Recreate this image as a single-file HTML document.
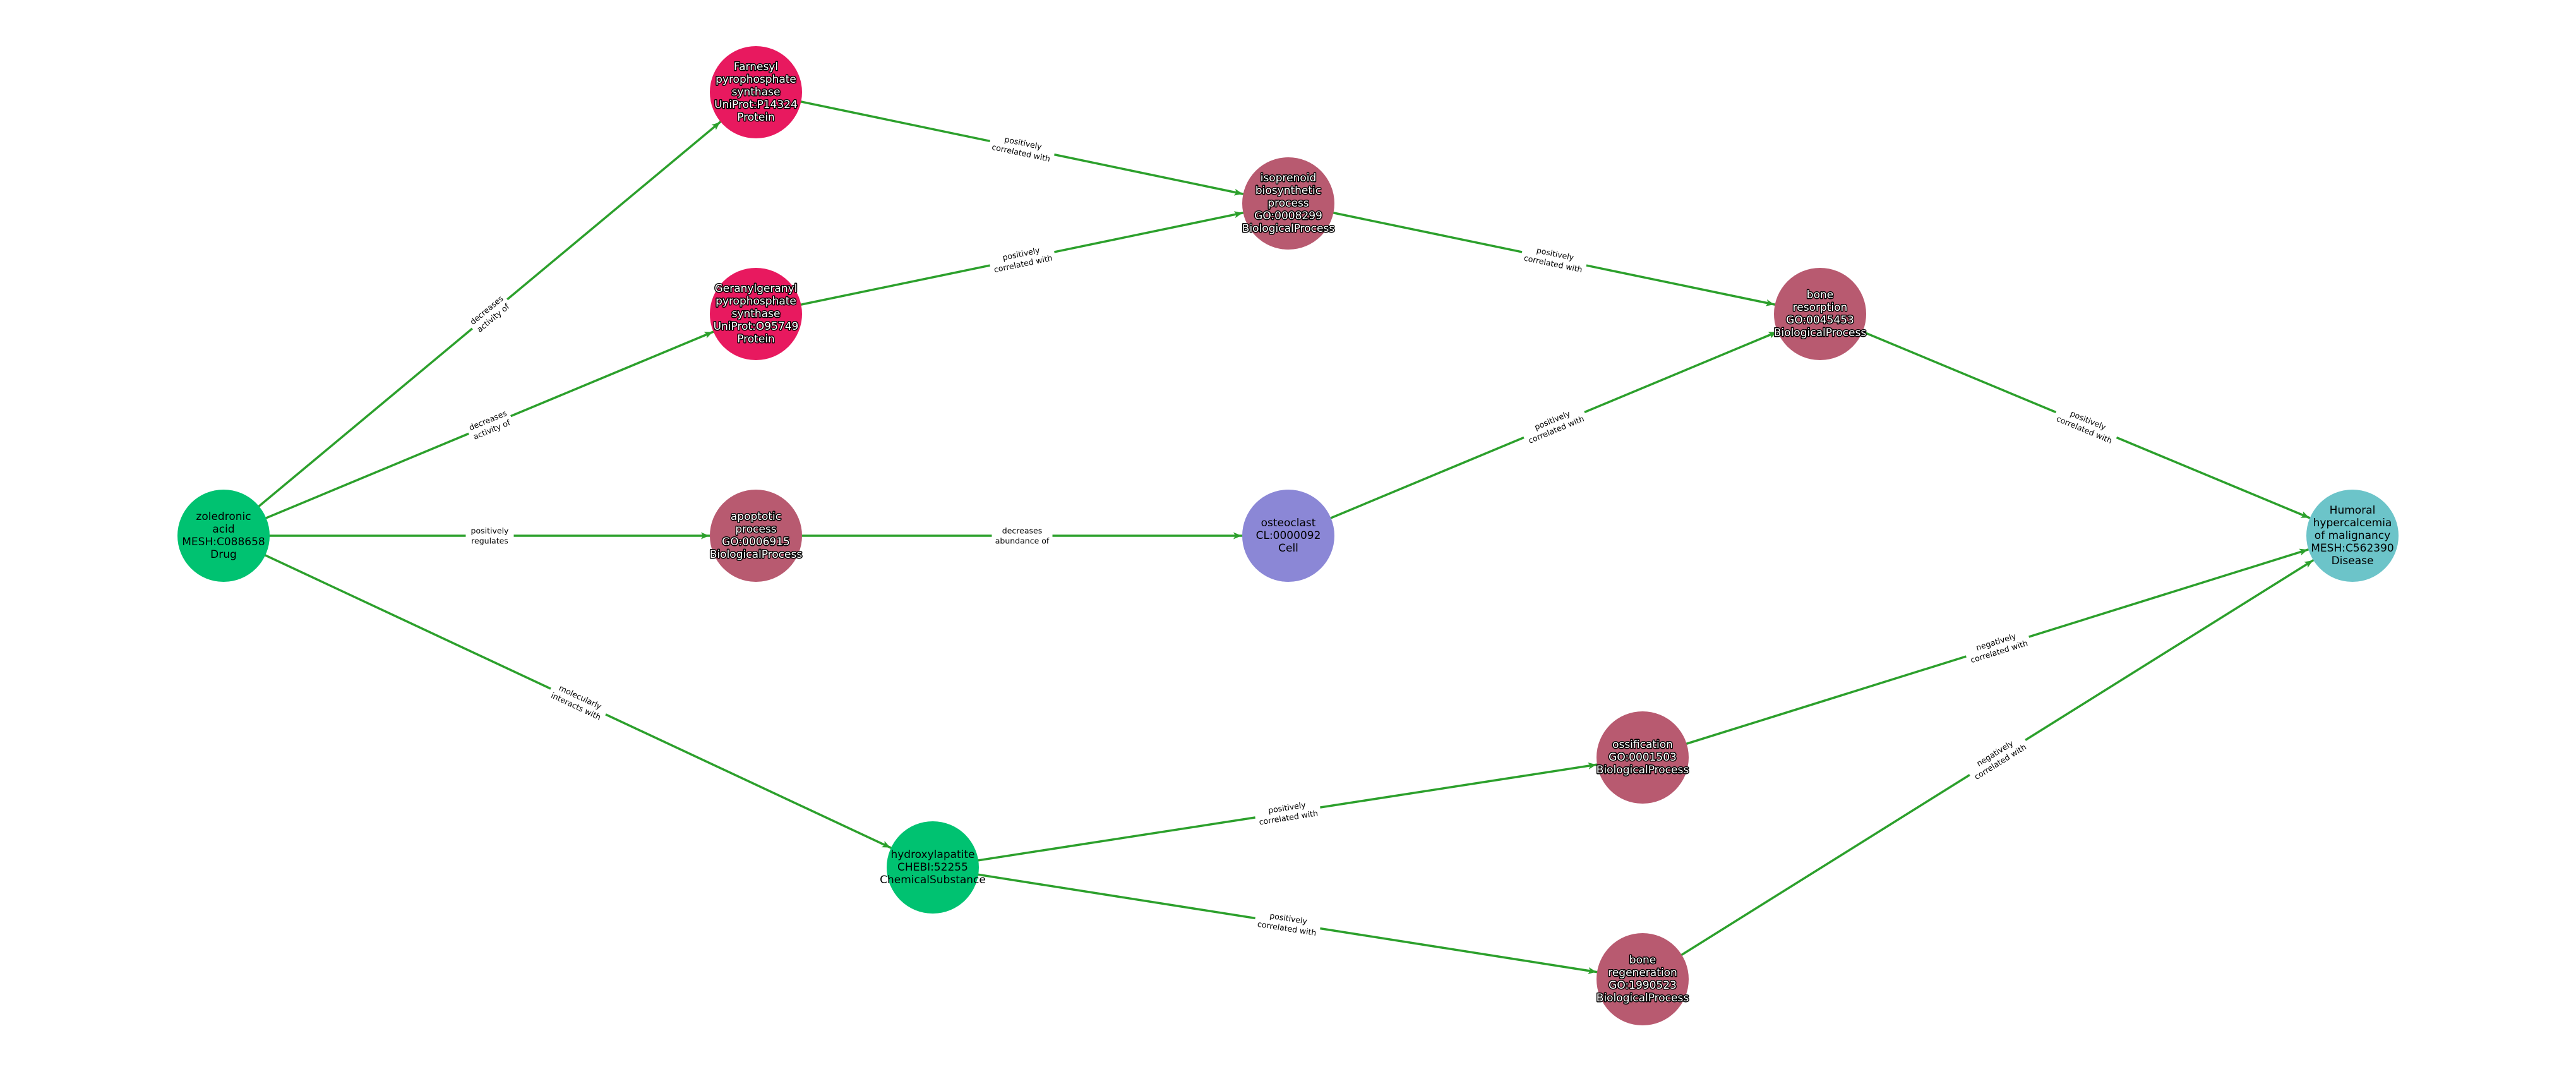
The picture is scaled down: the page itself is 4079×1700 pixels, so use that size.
<!DOCTYPE html>
<html><head><meta charset="utf-8"><style>
html,body{margin:0;padding:0;background:#fff}
svg{display:block}
.n text{font-family:"DejaVu Sans","Liberation Sans",sans-serif;font-size:17px;text-anchor:middle;dominant-baseline:central}
.w text{fill:#fff;stroke:#000;stroke-width:3px;paint-order:stroke;stroke-linejoin:round}
.b text{fill:#000}
.l text{font-family:"DejaVu Sans","Liberation Sans",sans-serif;font-size:12.5px;text-anchor:middle;dominant-baseline:central;fill:#000}
.e line{stroke:#2ca02c;stroke-width:3.5}
</style></head><body>
<svg width="4079" height="1700" viewBox="0 0 4079 1700" xmlns="http://www.w3.org/2000/svg">
<defs>
<marker id="a" markerUnits="userSpaceOnUse" markerWidth="120" markerHeight="30" viewBox="-20 -10 120 20" refX="74" refY="0" orient="auto">
<path d="M0,0 L-13,-5.5 L-10,0 L-13,5.5 Z" fill="#2ca02c"/>
</marker>
</defs>
<g class="e">
<line x1="354" y1="848" x2="1197" y2="146" marker-end="url(#a)"/>
<line x1="354" y1="848" x2="1197" y2="497" marker-end="url(#a)"/>
<line x1="354" y1="848" x2="1197" y2="848" marker-end="url(#a)"/>
<line x1="354" y1="848" x2="1477" y2="1373" marker-end="url(#a)"/>
<line x1="1197" y1="146" x2="2040" y2="322" marker-end="url(#a)"/>
<line x1="1197" y1="497" x2="2040" y2="322" marker-end="url(#a)"/>
<line x1="1197" y1="848" x2="2040" y2="848" marker-end="url(#a)"/>
<line x1="2040" y1="322" x2="2882" y2="497" marker-end="url(#a)"/>
<line x1="2040" y1="848" x2="2882" y2="497" marker-end="url(#a)"/>
<line x1="2882" y1="497" x2="3725" y2="848" marker-end="url(#a)"/>
<line x1="1477" y1="1373" x2="2601" y2="1199" marker-end="url(#a)"/>
<line x1="1477" y1="1373" x2="2601" y2="1550" marker-end="url(#a)"/>
<line x1="2601" y1="1199" x2="3725" y2="848" marker-end="url(#a)"/>
<line x1="2601" y1="1550" x2="3725" y2="848" marker-end="url(#a)"/>
</g>
<g class="l">
<g transform="translate(775.5,497) rotate(-39.8)"><rect x="-36" y="-17" width="72" height="34" fill="#fff"/><text y="-8">decreases</text><text y="8">activity of</text></g>
<g transform="translate(775.5,672.5) rotate(-22.6)"><rect x="-36" y="-17" width="72" height="34" fill="#fff"/><text y="-8">decreases</text><text y="8">activity of</text></g>
<g transform="translate(775.5,848)"><rect x="-38" y="-17" width="76" height="34" fill="#fff"/><text y="-8">positively</text><text y="8">regulates</text></g>
<g transform="translate(915.5,1110.5) rotate(25.1)"><rect x="-48" y="-17" width="96" height="34" fill="#fff"/><text y="-8">molecularly</text><text y="8">interacts with</text></g>
<g transform="translate(1618.5,234) rotate(11.8)"><rect x="-52" y="-17" width="104" height="34" fill="#fff"/><text y="-8">positively</text><text y="8">correlated with</text></g>
<g transform="translate(1618.5,409.5) rotate(-11.7)"><rect x="-52" y="-17" width="104" height="34" fill="#fff"/><text y="-8">positively</text><text y="8">correlated with</text></g>
<g transform="translate(1618.5,848)"><rect x="-48" y="-17" width="96" height="34" fill="#fff"/><text y="-8">decreases</text><text y="8">abundance of</text></g>
<g transform="translate(2461,409.5) rotate(11.7)"><rect x="-52" y="-17" width="104" height="34" fill="#fff"/><text y="-8">positively</text><text y="8">correlated with</text></g>
<g transform="translate(2461,672.5) rotate(-22.6)"><rect x="-52" y="-17" width="104" height="34" fill="#fff"/><text y="-8">positively</text><text y="8">correlated with</text></g>
<g transform="translate(3303.5,672.5) rotate(22.6)"><rect x="-52" y="-17" width="104" height="34" fill="#fff"/><text y="-8">positively</text><text y="8">correlated with</text></g>
<g transform="translate(2039,1286) rotate(-8.8)"><rect x="-52" y="-17" width="104" height="34" fill="#fff"/><text y="-8">positively</text><text y="8">correlated with</text></g>
<g transform="translate(2039,1461.5) rotate(8.9)"><rect x="-52" y="-17" width="104" height="34" fill="#fff"/><text y="-8">positively</text><text y="8">correlated with</text></g>
<g transform="translate(3163,1023.5) rotate(-17.3)"><rect x="-52" y="-17" width="104" height="34" fill="#fff"/><text y="-8">negatively</text><text y="8">correlated with</text></g>
<g transform="translate(3163,1199) rotate(-32)"><rect x="-52" y="-17" width="104" height="34" fill="#fff"/><text y="-8">negatively</text><text y="8">correlated with</text></g>
</g>
<g class="n">
<g class="b"><circle cx="354" cy="848" r="73" fill="#00c271"/>
<text x="354" y="818">zoledronic</text><text x="354" y="838">acid</text><text x="354" y="858">MESH:C088658</text><text x="354" y="878">Drug</text></g>
<g class="w"><circle cx="1197" cy="146" r="73" fill="#e8195f"/>
<text x="1197" y="106">Farnesyl</text><text x="1197" y="126">pyrophosphate</text><text x="1197" y="146">synthase</text><text x="1197" y="166">UniProt:P14324</text><text x="1197" y="186">Protein</text></g>
<g class="w"><circle cx="1197" cy="497" r="73" fill="#e8195f"/>
<text x="1197" y="457">Geranylgeranyl</text><text x="1197" y="477">pyrophosphate</text><text x="1197" y="497">synthase</text><text x="1197" y="517">UniProt:O95749</text><text x="1197" y="537">Protein</text></g>
<g class="w"><circle cx="1197" cy="848" r="73" fill="#b85a70"/>
<text x="1197" y="818">apoptotic</text><text x="1197" y="838">process</text><text x="1197" y="858">GO:0006915</text><text x="1197" y="878">BiologicalProcess</text></g>
<g class="w"><circle cx="2040" cy="322" r="73" fill="#b85a70"/>
<text x="2040" y="282">isoprenoid</text><text x="2040" y="302">biosynthetic</text><text x="2040" y="322">process</text><text x="2040" y="342">GO:0008299</text><text x="2040" y="362">BiologicalProcess</text></g>
<g class="b"><circle cx="2040" cy="848" r="73" fill="#8b87d6"/>
<text x="2040" y="828">osteoclast</text><text x="2040" y="848">CL:0000092</text><text x="2040" y="868">Cell</text></g>
<g class="w"><circle cx="2882" cy="497" r="73" fill="#b85a70"/>
<text x="2882" y="467">bone</text><text x="2882" y="487">resorption</text><text x="2882" y="507">GO:0045453</text><text x="2882" y="527">BiologicalProcess</text></g>
<g class="b"><circle cx="3725" cy="848" r="73" fill="#6cc4c9"/>
<text x="3725" y="808">Humoral</text><text x="3725" y="828">hypercalcemia</text><text x="3725" y="848">of malignancy</text><text x="3725" y="868">MESH:C562390</text><text x="3725" y="888">Disease</text></g>
<g class="w"><circle cx="2601" cy="1199" r="73" fill="#b85a70"/>
<text x="2601" y="1179">ossification</text><text x="2601" y="1199">GO:0001503</text><text x="2601" y="1219">BiologicalProcess</text></g>
<g class="b"><circle cx="1477" cy="1373" r="73" fill="#00c271"/>
<text x="1477" y="1353">hydroxylapatite</text><text x="1477" y="1373">CHEBI:52255</text><text x="1477" y="1393">ChemicalSubstance</text></g>
<g class="w"><circle cx="2601" cy="1550" r="73" fill="#b85a70"/>
<text x="2601" y="1520">bone</text><text x="2601" y="1540">regeneration</text><text x="2601" y="1560">GO:1990523</text><text x="2601" y="1580">BiologicalProcess</text></g>
</g>
</svg>
</body></html>
